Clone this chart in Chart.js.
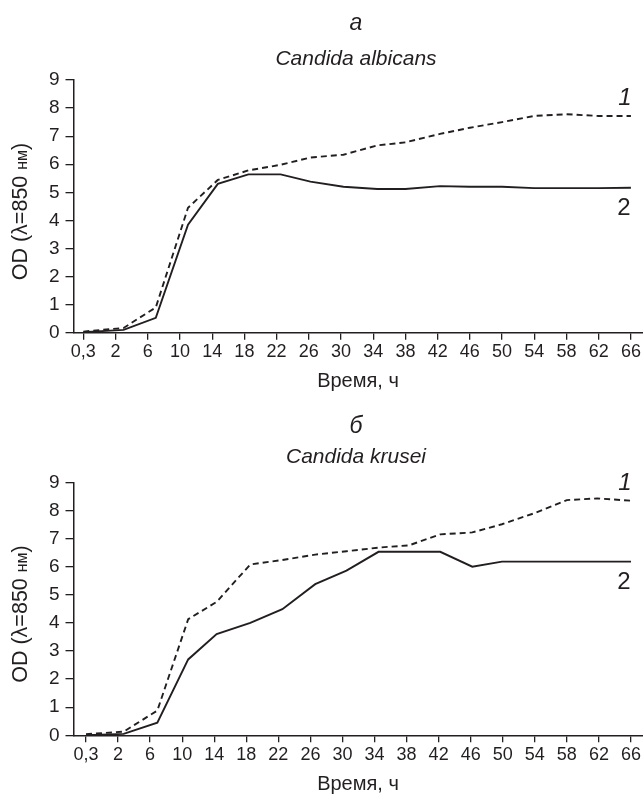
<!DOCTYPE html>
<html>
<head>
<meta charset="utf-8">
<script src="https://cdn.jsdelivr.net/npm/chart.js@4.4.1/dist/chart.umd.min.js"></script>
<style>
  body { margin: 0; background: #fff; }
  #wrap { position: relative; width: 643px; height: 796px; }
  canvas { position: absolute; left: 0; }
  #chartA { top: 0; }
  #chartB { top: 398px; }
</style>
</head>
<body>
<div id="wrap">
  <canvas id="chartA" width="643" height="398"></canvas>
  <canvas id="chartB" width="643" height="398"></canvas>
</div>
<script>
// x axis: equally spaced ticks, the first one is the 0,3 h sample
const tickPos = [-2, 2, 6, 10, 14, 18, 22, 26, 30, 34, 38, 42, 46, 50, 54, 58, 62, 66];
const tickLabels = ["0,3", "2", "6", "10", "14", "18", "22", "26", "30", "34", "38", "42", "46", "50", "54", "58", "62", "66"];

// а — Candida albicans
const timeA = [-2, 3, 7, 11, 14.7, 18.5, 22.5, 26.2, 30.3, 34.5, 38, 42.3, 46, 50, 54, 58, 62, 66];
const dashedA = [0.04, 0.17, 0.9, 4.45, 5.44, 5.78, 5.98, 6.24, 6.34, 6.67, 6.78, 7.08, 7.3, 7.5, 7.72, 7.78, 7.72, 7.72];
const solidA = [0.02, 0.1, 0.53, 3.85, 5.3, 5.64, 5.64, 5.38, 5.2, 5.12, 5.12, 5.22, 5.2, 5.2, 5.15, 5.15, 5.15, 5.16];

// б — Candida krusei
const timeB = [-2, 2.7, 6.9, 10.75, 14.3, 18.5, 22.5, 26.6, 30.5, 34.5, 38.3, 42.2, 46.2, 49.9, 53.9, 58, 61.8, 66];
const dashedB = [0.04, 0.13, 0.88, 4.13, 4.75, 6.08, 6.24, 6.43, 6.55, 6.68, 6.76, 7.15, 7.22, 7.51, 7.9, 8.37, 8.43, 8.35];
const solidB = [0.0, 0.05, 0.45, 2.7, 3.6, 4.0, 4.49, 5.38, 5.86, 6.53, 6.53, 6.53, 6.0, 6.18, 6.18, 6.18, 6.18, 6.18];

const ink = "#231f20";
const fam = "'Liberation Sans', Arial, Helvetica, sans-serif";

// titles, axis titles and the curve numbers 1 / 2
const panelText = {
  id: "panelText",
  afterDraw(chart) {
    let o = chart.options.plugins.panelText;
    let ctx = chart.ctx;
    ctx.save();
    ctx.fillStyle = ink;
    ctx.textAlign = "center";
    ctx.textBaseline = "alphabetic";

    ctx.font = "italic 23px " + fam;
    ctx.fillText(o.letter, 356, o.letterY);
    ctx.font = "italic 21px " + fam;
    ctx.fillText(o.species, 356, o.speciesY);
    ctx.font = "20px " + fam;
    ctx.fillText("Время, ч", 358, o.xTitleY);

    // OD (λ=850 нм), "нм" in smaller type
    ctx.save();
    ctx.translate(19, o.yTitleY);
    ctx.rotate(-Math.PI / 2);
    ctx.textAlign = "left";
    let big = "21.5px " + fam, small = "16px " + fam;
    ctx.font = big;
    let w1 = ctx.measureText("OD (λ=850 ").width;
    let w3 = ctx.measureText(")").width;
    ctx.font = small;
    let w2 = ctx.measureText("нм").width;
    let x = -(w1 + w2 + w3) / 2;
    ctx.font = big;
    ctx.fillText("OD (λ=850 ", x, 7.5);
    ctx.font = small;
    ctx.fillText("нм", x + w1, 7.5);
    ctx.font = big;
    ctx.fillText(")", x + w1 + w2, 7.5);
    ctx.restore();

    let p1 = chart.getDatasetMeta(0).data.at(-1);
    let p2 = chart.getDatasetMeta(1).data.at(-1);
    ctx.textAlign = "center";
    ctx.font = "italic 24px " + fam;
    ctx.fillText("1", 625, p1.y - 19.5 + 8.6);
    ctx.font = "24px " + fam;
    ctx.fillText("2", 624, p2.y + 19 + 8.6);
    ctx.restore();
  }
};

function makePanel(id, time, dashed, solid, xMin, xMax, top, xHeight, text) {
  let ctx = document.getElementById(id).getContext("2d");
  return new Chart(ctx, {
    type: "line",
    data: {
      datasets: [
        {
          data: time.map((t, i) => ({ x: t, y: dashed[i] })),
          borderColor: ink, borderWidth: 1.9, borderDash: [6, 4],
          pointRadius: 0, fill: false, tension: 0
        },
        {
          data: time.map((t, i) => ({ x: t, y: solid[i] })),
          borderColor: ink, borderWidth: 1.9,
          pointRadius: 0, fill: false, tension: 0
        }
      ]
    },
    options: {
      responsive: false,
      animation: false,
      layout: { padding: { top: top, left: 0, right: 0, bottom: 0 } },
      plugins: { legend: { display: false }, tooltip: { enabled: false }, panelText: text },
      scales: {
        x: {
          type: "linear", min: xMin, max: xMax,
          afterBuildTicks: s => { s.ticks = tickPos.map(v => ({ value: v })); },
          afterFit: s => { s.height = xHeight; },
          ticks: {
            callback: (v, i) => tickLabels[i],
            autoSkip: false, maxRotation: 0, padding: 2,
            color: ink, font: { size: 18, family: fam }
          },
          grid: { drawOnChartArea: false, drawTicks: true, tickLength: 7, color: ink, lineWidth: 1.3 },
          border: { color: ink, width: 1.5 }
        },
        y: {
          min: 0, max: 9,
          afterFit: s => { s.width = 73.5; },
          ticks: { stepSize: 1, padding: 6, color: ink, font: { size: 19, family: fam } },
          grid: { drawOnChartArea: false, drawTicks: true, tickLength: 8, color: ink, lineWidth: 1.3 },
          border: { color: ink, width: 1.5 }
        }
      }
    },
    plugins: [panelText]
  });
}

makePanel("chartA", timeA, dashedA, solidA, -3.22, 67.5, 80, 65.3,
  { letter: "а", letterY: 30, species: "Candida albicans", speciesY: 65, xTitleY: 387, yTitleY: 211.5 });
makePanel("chartB", timeB, dashedB, solidB, -3.56, 67.5, 84.4, 60.7,
  { letter: "б", letterY: 35, species: "Candida krusei", speciesY: 65, xTitleY: 392, yTitleY: 216 });
</script>
</body>
</html>
